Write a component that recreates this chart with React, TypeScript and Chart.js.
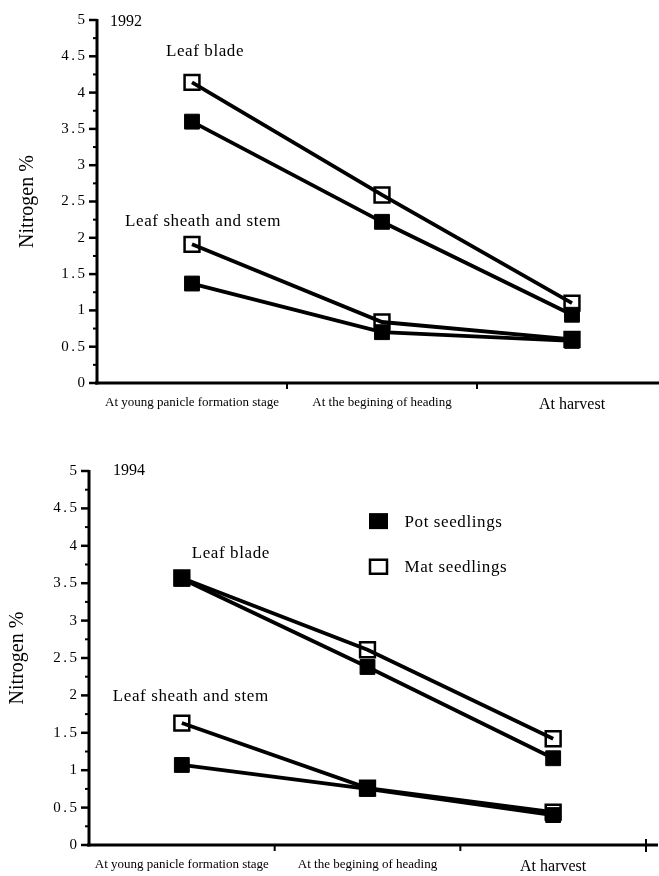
import React, { useEffect, useRef } from "react";
import { Chart, registerables } from "chart.js";

Chart.register(...registerables);

// ---------- data ----------
const categories = [
  "At young panicle formation stage",
  "At the begining of heading",
  "At harvest",
];
const seriesNames = ["Pot seedlings", "Mat seedlings"];
const organNames = ["Leaf blade", "Leaf sheath and stem"];
const years = ["1992", "1994"];

const pot1992Blade = [3.6, 2.22, 0.94];
const mat1992Blade = [4.14, 2.59, 1.1];
const pot1992Sheath = [1.37, 0.7, 0.58];
const mat1992Sheath = [1.91, 0.84, 0.6];

const pot1994Blade = [3.56, 2.38, 1.16];
const mat1994Blade = [3.57, 2.61, 1.42];
const pot1994Sheath = [1.07, 0.75, 0.4];
const mat1994Sheath = [1.63, 0.76, 0.44];

const yMin = 0;
const yMax = 5;
const yStep = 0.25;
const yTitle = "Nitrogen %";

// ---------- styling ----------
const SERIF = "'Liberation Serif', 'Times New Roman', serif";

type Anno = { text: string; cat: number; dx: number; value: number; align: "left" | "center" };

type Cfg = {
  top: number;
  width: number;
  height: number;
  padTop: number;
  padRight: number;
  yWidth: number;
  xHeight: number;
  axisRightEnd: number;
  endTick: boolean;
  titleX: number;
  yearText: string;
  yearDx: number;
  yearValue: number;
  annos: Anno[];
  legend: null | { cat: number; dx: number; values: number[] };
  pot: number[][];
  mat: number[][];
};

const isMajor = (v: number) => Math.abs(Math.round(v * 100) % 50) === 0;

function makePlugin(cfg: Cfg) {
  return {
    id: "decor",
    afterDraw(chart: any) {
      const ctx: CanvasRenderingContext2D = chart.ctx;
      const xs = chart.scales.x;
      const ys = chart.scales.y;
      const ca = chart.chartArea;
      ctx.save();
      ctx.strokeStyle = "#000";
      ctx.fillStyle = "#000";
      ctx.lineCap = "butt";

      // y axis line
      const y0 = ys.getPixelForValue(yMin);
      const y5 = ys.getPixelForValue(yMax);
      ctx.lineWidth = 3;
      ctx.beginPath();
      ctx.moveTo(ca.left, y0 + 1.5);
      ctx.lineTo(ca.left, y5 - 1);
      ctx.stroke();

      // x axis line
      ctx.beginPath();
      ctx.moveTo(ca.left - 2, y0);
      ctx.lineTo(cfg.axisRightEnd, y0);
      ctx.stroke();

      // y ticks and labels
      ctx.font = `15px ${SERIF}`;
      ctx.textAlign = "right";
      ctx.textBaseline = "middle";
      (ctx as any).letterSpacing = "2.5px";
      ys.ticks.forEach((t: any) => {
        const py = ys.getPixelForValue(t.value);
        const major = isMajor(t.value);
        ctx.lineWidth = major ? 2.5 : 2;
        ctx.beginPath();
        ctx.moveTo(ca.left, py);
        ctx.lineTo(ca.left - (major ? 8 : 4), py);
        ctx.stroke();
        if (major) {
          ctx.fillText(String(t.value), ca.left - 9.5, py);
        }
      });
      (ctx as any).letterSpacing = "0px";

      // x ticks between categories
      ctx.lineWidth = 2;
      for (let i = 0; i < categories.length - 1; i++) {
        const px = xs.getPixelForValue(i + 0.5);
        ctx.beginPath();
        ctx.moveTo(px, y0);
        ctx.lineTo(px, y0 + 6);
        ctx.stroke();
      }
      if (cfg.endTick) {
        const px = xs.getPixelForValue(categories.length - 0.5);
        ctx.beginPath();
        ctx.moveTo(px, y0 - 6);
        ctx.lineTo(px, y0 + 7);
        ctx.stroke();
      }

      // y title
      ctx.save();
      ctx.translate(cfg.titleX, (y0 + y5) / 2);
      ctx.rotate(-Math.PI / 2);
      ctx.font = `20px ${SERIF}`;
      ctx.textAlign = "center";
      ctx.textBaseline = "middle";
      ctx.fillText(yTitle, 0, 0);
      ctx.restore();

      // year
      ctx.font = `16px ${SERIF}`;
      ctx.textAlign = "left";
      ctx.textBaseline = "middle";
      ctx.fillText(cfg.yearText, ca.left + cfg.yearDx, ys.getPixelForValue(cfg.yearValue));

      // annotations
      (ctx as any).letterSpacing = "0.6px";
      ctx.font = `17px ${SERIF}`;
      cfg.annos.forEach((a) => {
        ctx.textAlign = a.align;
        ctx.fillText(a.text, xs.getPixelForValue(a.cat) + a.dx, ys.getPixelForValue(a.value));
      });

      // legend
      if (cfg.legend) {
        const lg = cfg.legend;
        const cx = xs.getPixelForValue(lg.cat) + lg.dx;
        lg.values.forEach((v, i) => {
          const cy = ys.getPixelForValue(v);
          if (i === 0) {
            ctx.fillRect(cx - 9.5, cy - 8, 19, 16);
          } else {
            ctx.lineWidth = 2.5;
            ctx.strokeRect(cx - 8.5, cy - 7, 17, 14);
          }
          ctx.textAlign = "left";
          ctx.fillText(seriesNames[i], cx + 26, cy + 1);
        });
      }
      ctx.restore();
    },
  };
}

function NitrogenChart({ cfg }: { cfg: Cfg }) {
  const ref = useRef<HTMLCanvasElement | null>(null);
  useEffect(() => {
    if (!ref.current) return;
    const ds = (data: number[], label: string, filled: boolean) => ({
      label,
      data,
      borderColor: "#000",
      borderWidth: 3.8,
      pointStyle: "rect",
      pointRadius: 10.5,
      pointHoverRadius: 10.5,
      pointBackgroundColor: filled ? "#000" : "rgba(255,255,255,0)",
      pointBorderColor: "#000",
      pointBorderWidth: filled ? 1 : 2.5,
      fill: false,
      tension: 0,
      clip: false,
    });
    const chart = new Chart(ref.current, {
      type: "line",
      data: {
        labels: categories,
        datasets: [
          ds(cfg.pot[0], seriesNames[0] + " - " + organNames[0], true),
          ds(cfg.pot[1], seriesNames[0] + " - " + organNames[1], true),
          ds(cfg.mat[0], seriesNames[1] + " - " + organNames[0], false),
          ds(cfg.mat[1], seriesNames[1] + " - " + organNames[1], false),
        ],
      },
      options: {
        responsive: false,
        animation: false,
        events: [],
        layout: { padding: { top: cfg.padTop, right: cfg.padRight, left: 0, bottom: 0 } },
        plugins: { legend: { display: false }, tooltip: { enabled: false }, title: { display: false } },
        scales: {
          x: {
            type: "category",
            offset: true,
            grid: { display: false, drawTicks: false },
            border: { display: false },
            ticks: {
              color: "#000",
              padding: 12,
              autoSkip: false,
              maxRotation: 0,
              font: (c: any) => ({ family: SERIF, size: c.index === 2 ? 16 : 13 }),
            },
            afterFit: (s: any) => {
              s.height = cfg.xHeight;
            },
          },
          y: {
            min: yMin,
            max: yMax,
            grid: { display: false, drawTicks: false },
            border: { display: false },
            ticks: {
              display: false,
              stepSize: yStep,
              autoSkip: false,
            },
            afterFit: (s: any) => {
              s.width = cfg.yWidth;
            },
          },
        },
      } as any,
      plugins: [makePlugin(cfg)],
    });
    return () => chart.destroy();
  }, [cfg]);
  return (
    <canvas
      ref={ref}
      width={cfg.width}
      height={cfg.height}
      style={{ position: "absolute", left: 0, top: cfg.top, width: cfg.width, height: cfg.height }}
    />
  );
}

const cfg1992: Cfg = {
  top: 0,
  width: 680,
  height: 430,
  padTop: 20,
  padRight: 12,
  yWidth: 97,
  xHeight: 47,
  axisRightEnd: 680,
  endTick: false,
  titleX: 28,
  yearText: years[0],
  yearDx: 13,
  yearValue: 4.97,
  annos: [
    { text: organNames[0], cat: 0, dx: 13, value: 4.56, align: "center" },
    { text: organNames[1], cat: 0, dx: 11, value: 2.22, align: "center" },
  ],
  legend: null,
  pot: [pot1992Blade, pot1992Sheath],
  mat: [mat1992Blade, mat1992Sheath],
};

const cfg1994: Cfg = {
  top: 440,
  width: 659,
  height: 436,
  padTop: 31,
  padRight: 4,
  yWidth: 89,
  xHeight: 31,
  axisRightEnd: 658,
  endTick: true,
  titleX: 18,
  yearText: years[1],
  yearDx: 24,
  yearValue: 5.0,
  annos: [
    { text: organNames[0], cat: 0, dx: 49, value: 3.9, align: "center" },
    { text: organNames[1], cat: 0, dx: 9, value: 1.98, align: "center" },
  ],
  legend: { cat: 1, dx: 11, values: [4.33, 3.72] },
  pot: [pot1994Blade, pot1994Sheath],
  mat: [mat1994Blade, mat1994Sheath],
};

export default function App() {
  return (
    <div
      style={{
        position: "absolute",
        left: 0,
        top: 0,
        width: 659,
        height: 876,
        overflow: "hidden",
        background: "#fff",
      }}
    >
      <NitrogenChart cfg={cfg1992} />
      <NitrogenChart cfg={cfg1994} />
    </div>
  );
}
